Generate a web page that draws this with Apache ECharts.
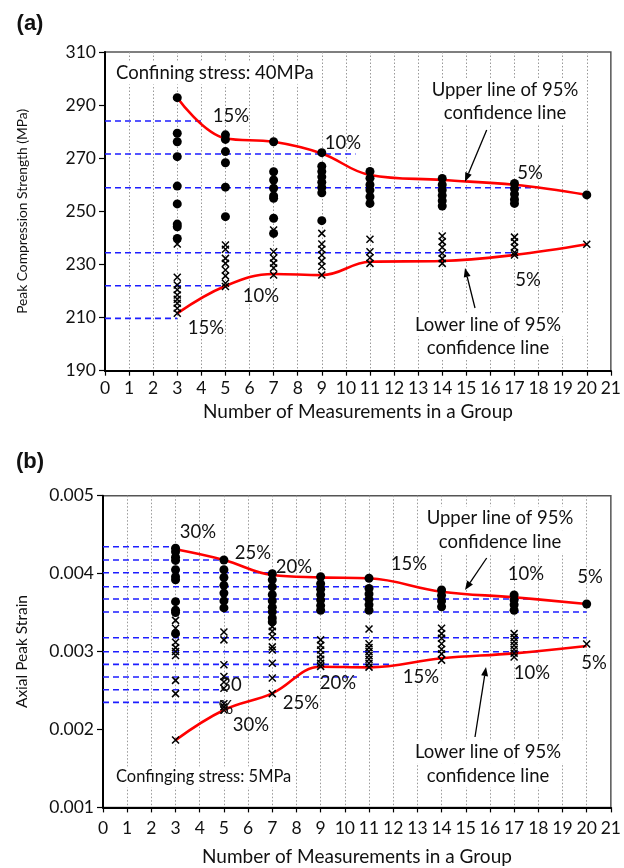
<!DOCTYPE html>
<html><head><meta charset="utf-8">
<script src="https://cdn.jsdelivr.net/npm/echarts@6/dist/echarts.min.js"></script>
<style>html,body{margin:0;padding:0;background:#fff}#c{width:624px;height:868px}</style>
</head><body><div id="c"></div>
<script>
// ---------- data ----------
const groupSizes = [3, 5, 7, 9, 11, 14, 17, 20];
const xTicks = [0,1,2,3,4,5,6,7,8,9,10,11,12,13,14,15,16,17,18,19,20,21];

// Panel (a): peak compression strength (MPa)
const aCircles = [
  [292.8, 279.4, 276.2, 270.6, 259.5, 252.8, 245.2, 244.2, 239.8],
  [278.8, 277.1, 272.5, 268.3, 259.1, 248.0],
  [276.2, 264.9, 261.8, 258.7, 255.8, 254.9, 247.4, 241.7],
  [272.1, 267.0, 265.0, 263.0, 261.0, 259.0, 257.0, 246.5],
  [265.0, 262.5, 260.0, 258.0, 255.5, 253.0],
  [262.4, 260.0, 258.0, 256.0, 254.0, 252.0],
  [260.5, 258.5, 256.5, 254.5, 253.0],
  [256.2]
];
const aCrosses = [
  [237.7, 225.2, 222.3, 220.5, 218.5, 216.9, 215.4, 213.5, 211.6],
  [237.3, 235.7, 232.3, 230.4, 227.9, 225.7, 222.9, 221.7],
  [243.0, 234.8, 232.4, 230.5, 228.7, 226.0],
  [241.7, 237.7, 235.7, 233.6, 231.3, 229.2, 226.0],
  [239.5, 234.8, 232.5, 230.4],
  [240.7, 238.6, 236.5, 234.2, 232.2, 230.4],
  [240.3, 238.5, 236.5, 234.5, 233.6],
  [237.6]
];
const aUpper95 = [292.8, 277.5, 276.2, 271.8, 263.7, 261.8, 260.0, 256.2];
const aLower95 = [211.6, 221.9, 226.4, 226.0, 231.0, 231.3, 233.6, 237.6];
const aBandValues = [284.0, 271.6, 258.9, 234.4, 222.0, 209.7];
const aBandEnds   = [4, 10.4, 17.9, 17.1, 5, 3];
const aYTicks = [190, 210, 230, 250, 270, 290, 310];

// Panel (b): axial peak strain
const bCircles = [
  [0.004325, 0.00428, 0.00421, 0.00417, 0.00405, 0.00396, 0.00392, 0.00364, 0.00353, 0.0035, 0.00323],
  [0.004175, 0.00405, 0.00395, 0.00385, 0.00375, 0.00365, 0.00356],
  [0.0040, 0.00392, 0.00383, 0.00373, 0.00365, 0.00357, 0.00351, 0.00343, 0.00338],
  [0.00396, 0.00387, 0.0038, 0.00373, 0.00366, 0.00359, 0.00353],
  [0.00394, 0.00381, 0.00374, 0.00367, 0.0036, 0.00353],
  [0.00379, 0.00372, 0.00365, 0.003575],
  [0.003725, 0.00366, 0.0036, 0.00353],
  [0.00361]
];
const bCrosses = [
  [0.0034, 0.0033, 0.00312, 0.00305, 0.0030, 0.00295, 0.00263, 0.00246, 0.001864],
  [0.00325, 0.00315, 0.00283, 0.00268, 0.00261, 0.00253, 0.00233, 0.00229, 0.00225],
  [0.00332, 0.00326, 0.00319, 0.00306, 0.00302, 0.00285, 0.00266, 0.00246],
  [0.00315, 0.00308, 0.00302, 0.00296, 0.0029, 0.00285, 0.00281],
  [0.00329, 0.0031, 0.00305, 0.0030, 0.00295, 0.0029, 0.00285, 0.0028],
  [0.0033, 0.00323, 0.00317, 0.0031, 0.00303, 0.00297, 0.00289],
  [0.00323, 0.00318, 0.00313, 0.00308, 0.00303, 0.00298, 0.00293],
  [0.003096]
];
const bUpper95 = [0.004312, 0.004175, 0.003982, 0.003952, 0.00394, 0.003768, 0.003696, 0.00361];
const bLower95 = [0.001864, 0.00225, 0.002463, 0.002805, 0.002797, 0.002913, 0.002977, 0.003071];
const bBandValues = [0.004345, 0.004175, 0.004012, 0.003832, 0.003674, 0.003507,
                     0.003177, 0.002997, 0.002836, 0.002673, 0.00251, 0.002348];
const bBandEnds   = [3, 5, 7, 12, 18, 20, 20, 18, 12, 10.5, 5, 5];
const bYTicks = [0.001, 0.002, 0.003, 0.004, 0.005];

// ---------- chart ----------
const FONT = 'Lato, "Liberation Sans", sans-serif';
const chart = echarts.init(document.getElementById('c'), null, {renderer: 'canvas'});

function pts(cols) {
  const out = [];
  cols.forEach((col, i) => col.forEach(v => out.push([groupSizes[i], v])));
  return out;
}
function linePts(vals) { return vals.map((v, i) => [groupSizes[i], v]); }

function xAxisCfg(gi, margin, gap) {
  return {
    gridIndex: gi, type: 'value', min: xTicks[0], max: xTicks[xTicks.length - 1], interval: 1,
    axisLine: {lineStyle: {color: '#000', width: 2}},
    axisTick: {show: true, length: 5, lineStyle: {color: '#000', width: 1.2}},
    axisLabel: {fontSize: 17.5, color: '#111', margin: margin, fontFamily: FONT},
    splitLine: {show: true, lineStyle: {color: '#999', width: 1, type: [1.5, 2]}},
    name: 'Number of Measurements in a Group', nameLocation: 'middle', nameGap: gap,
    nameTextStyle: {fontSize: 19, color: '#111', fontFamily: FONT}
  };
}
function yAxisCfg(gi, ticks, name, gap, fmt, nsize) {
  return {
    gridIndex: gi, type: 'value', min: ticks[0], max: ticks[ticks.length - 1],
    interval: ticks[1] - ticks[0],
    axisLine: {lineStyle: {color: '#000', width: 2}},
    axisTick: {show: true, length: 6, lineStyle: {color: '#000', width: 1.2}},
    axisLabel: {fontSize: 17.5, color: '#111', margin: 9, fontFamily: FONT, formatter: fmt},
    splitLine: {show: false},
    name: name, nameLocation: 'middle', nameRotate: 90, nameGap: gap,
    nameTextStyle: {fontSize: nsize, color: '#111', fontFamily: FONT}
  };
}

const series = [];
function addBands(vals, ends, xi, yi) {
  vals.forEach((v, i) => series.push({
    type: 'line', xAxisIndex: xi, yAxisIndex: yi, data: [[0, v], [ends[i], v]],
    showSymbol: false, silent: true, z: 1,
    lineStyle: {color: '#1e1eff', width: 1.6, type: [6, 4]}
  }));
}
function addScatter(circles, crosses, xi, yi) {
  series.push({type: 'scatter', xAxisIndex: xi, yAxisIndex: yi, data: pts(circles),
    symbol: 'circle', symbolSize: 9, itemStyle: {color: '#000', opacity: 1}, z: 4, silent: true});
  series.push({type: 'scatter', xAxisIndex: xi, yAxisIndex: yi, data: pts(crosses),
    symbol: 'path://M0,0L10,10M10,0L0,10', symbolSize: 7,
    itemStyle: {color: 'rgba(0,0,0,0)', borderColor: '#000', borderWidth: 1.5, opacity: 1}, z: 4, silent: true});
}
function addRed(vals, xi, yi) {
  series.push({type: 'line', xAxisIndex: xi, yAxisIndex: yi, data: linePts(vals),
    smooth: 0.4, showSymbol: false, silent: true, z: 3,
    lineStyle: {color: '#ff0000', width: 2.6}});
}
addBands(aBandValues, aBandEnds, 0, 0);
addScatter(aCircles, aCrosses, 0, 0);
addRed(aUpper95, 0, 0);
addRed(aLower95, 0, 0);
addBands(bBandValues, bBandEnds, 1, 1);
addScatter(bCircles, bCrosses, 1, 1);
addRed(bUpper95, 1, 1);
addRed(bLower95, 1, 1);

// ---------- annotations ----------
function txt(x, y, text, size, opt) {
  opt = opt || {};
  return {type: 'text', x: x, y: y, z: 100, silent: true,
    style: Object.assign({text: text, fontSize: size, fontFamily: FONT, fill: '#111',
      align: opt.align || 'center', verticalAlign: 'middle'}, opt.style || {})};
}
function arrow(x1, y1, x2, y2) {
  const a = Math.atan2(y2 - y1, x2 - x1), L = 9, W = 3.5;
  const bx = x2 - L * Math.cos(a), by = y2 - L * Math.sin(a);
  const px = -Math.sin(a) * W, py = Math.cos(a) * W;
  return [
    {type: 'line', z: 100, silent: true, shape: {x1: x1, y1: y1, x2: bx, y2: by},
      style: {stroke: '#000', lineWidth: 1.3}},
    {type: 'polygon', z: 100, silent: true,
      shape: {points: [[x2, y2], [bx + px, by + py], [bx - px, by - py]]}, style: {fill: '#000'}}
  ];
}
const WB = {backgroundColor: '#fff', padding: [2, 3]};
const P = 18.5;
const graphics = [
  txt(30, 24, '(a)', 22, {style: {fontWeight: 'bold', fontFamily: '"Liberation Sans", Arial, sans-serif'}}),
  txt(30, 462, '(b)', 22, {style: {fontWeight: 'bold', fontFamily: '"Liberation Sans", Arial, sans-serif'}}),
  // panel a
  txt(113, 73, 'Confining stress: 40MPa', 18.5, {align: 'left', style: WB}),
  txt(505, 90, 'Upper line of 95%', 18.5, {style: WB}),
  txt(505, 113, 'confidence line', 18.5, {style: WB}),
  txt(488, 325, 'Lower line of 95%', 18.5, {style: WB}),
  txt(488, 348, 'confidence line', 18.5, {style: WB}),
  txt(231, 116, '15%', P), txt(343, 143, '10%', P), txt(530, 173, '5%', P),
  txt(261, 296, '10%', P), txt(206, 328, '15%', P), txt(528, 280, '5%', P),
  // panel b
  txt(500, 518, 'Upper line of 95%', 18.5, {style: WB}),
  txt(500, 542, 'confidence line', 18.5, {style: WB}),
  txt(488, 752, 'Lower line of 95%', 18.5, {style: WB}),
  txt(488, 776, 'confidence line', 18.5, {style: WB}),
  txt(113, 777, 'Confinging stress: 5MPa', 16.5, {align: 'left', style: WB}),
  txt(198, 532, '30%', P), txt(253, 553, '25%', P), txt(294, 567, '20%', P),
  txt(409, 564, '15%', P), txt(526, 574, '10%', P), txt(590, 577, '5%', P),
  txt(231, 685, '30', P), txt(226, 708, '%', P),
  txt(251, 725, '30%', P), txt(301, 703, '25%', P), txt(338, 683, '20%', P),
  txt(421, 677, '15%', P), txt(532, 673, '10%', P), txt(594, 663, '5%', P)
].concat(
  arrow(486.7, 130, 465, 181.7),
  arrow(475, 308, 465, 268),
  arrow(486.7, 558, 465, 590),
  arrow(475, 737, 486, 667)
);

chart.setOption({
  animation: false,
  backgroundColor: '#fff',
  grid: [
    {left: 105, top: 52, width: 507, height: 318.7, show: true, borderColor: '#555', borderWidth: 1.5},
    {left: 103, top: 495.7, width: 510.5, height: 311.7, show: true, borderColor: '#555', borderWidth: 1.5}
  ],
  xAxis: [xAxisCfg(0, 9, 32), xAxisCfg(1, 12, 40)],
  yAxis: [
    yAxisCfg(0, aYTicks, 'Peak Compression Strength (MPa)', 75, v => String(v), 13.8),
    yAxisCfg(1, bYTicks, 'Axial Peak Strain', 73, v => v.toFixed(3), 15.5)
  ],
  series: series,
  graphic: graphics
});
</script>
</body></html>
